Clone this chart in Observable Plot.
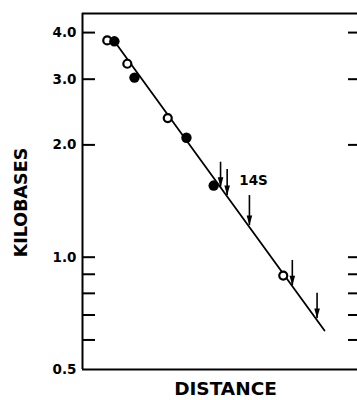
<!DOCTYPE html>
<html><head><meta charset="utf-8">
<script src="https://cdn.jsdelivr.net/npm/d3@7"></script>
<script src="https://cdn.jsdelivr.net/npm/@observablehq/plot@0.6"></script>
<style>body{margin:0;background:#fff}</style>
</head><body><div id="chart"></div>
<script>
// open circles
const openX = [9.0, 16.3, 31.0, 73.0];
const openKb = [3.81, 3.30, 2.36, 0.893];
// filled circles
const filledX = [11.6, 18.9, 37.8, 47.7];
const filledKb = [3.79, 3.03, 2.09, 1.556];
// fitted line
const fitX = [11.6, 88.0];
const fitKb = [3.79, 0.636];
// arrows (markers)
const arrowX = [50.2, 52.6, 60.7, 76.3, 85.3];
const arrowTailKb = [1.797, 1.718, 1.463, 0.980, 0.801];
const arrowTipKb = [1.540, 1.463, 1.216, 0.839, 0.685];
// ticks
const labelTicks = [0.5, 1, 2, 3, 4];
const markTicks = [0.6, 0.7, 0.8, 0.9, 1, 2, 3, 4];
const annotX = [62.2], annotKb = [1.6], annotText = ["14S"];
const xDomain = [0, 100], yDomain = [0.5, 4.5];

const openPts = openX.map((x, i) => ({x, kb: openKb[i]}));
const filledPts = filledX.map((x, i) => ({x, kb: filledKb[i]}));
const fit = fitX.map((x, i) => ({x, kb: fitKb[i]}));
const arrows = arrowX.map((x, i) => ({x, y1: arrowTailKb[i], y2: arrowTipKb[i]}));
const annot = annotX.map((x, i) => ({x, kb: annotKb[i], text: annotText[i]}));

const W = 357, ML = 82, MR = 0;
const frameW = W - ML - MR;
const head = {draw(ctx) { ctx.moveTo(0, 0); ctx.lineTo(-2.8, -10); ctx.lineTo(2.8, -10); ctx.closePath(); }};
const font = "DejaVu Sans";

const chart = Plot.plot({
  width: W, height: 400,
  marginLeft: ML, marginRight: MR, marginTop: 13, marginBottom: 31,
  style: {fontFamily: font, fontWeight: "bold", color: "#000", background: "#fff"},
  x: {domain: xDomain, axis: null},
  y: {type: "log", domain: yDomain, axis: null},
  marks: [
    Plot.ruleY([yDomain[0], yDomain[1]], {stroke: "#000", strokeWidth: 2}),
    Plot.ruleX([xDomain[0]], {stroke: "#000", strokeWidth: 2}),
    Plot.tickY(markTicks, {y: d => d, insetRight: frameW - 13, stroke: "#000", strokeWidth: 2}),
    Plot.tickY(markTicks, {y: d => d, insetLeft: frameW - 9, stroke: "#000", strokeWidth: 2}),
    Plot.text(labelTicks, {y: d => d, frameAnchor: "left", dx: -6, textAnchor: "end", lineAnchor: "middle",
      text: d => d3.format(".1f")(d), fontSize: 13.5, fontWeight: "bold", fill: "#000"}),
    Plot.text(["KILOBASES"], {frameAnchor: "left", dx: -61.6, dy: 11, rotate: -90, textAnchor: "middle",
      lineAnchor: "middle", fontSize: 17.5, fontWeight: "bold", fill: "#000"}),
    Plot.text(["DISTANCE"], {frameAnchor: "bottom", dx: 5.5, dy: 20, textAnchor: "middle",
      lineAnchor: "middle", fontSize: 18.5, fontWeight: "bold", fill: "#000"}),
    Plot.line(fit, {x: "x", y: "kb", stroke: "#000", strokeWidth: 1.8}),
    Plot.ruleX(arrows, {x: "x", y1: "y1", y2: "y2", stroke: "#000", strokeWidth: 1.6}),
    Plot.dot(arrows, {x: "x", y: "y2", symbol: head, r: 4, fill: "#000", stroke: "none"}),
    Plot.dot(openPts, {x: "x", y: "kb", r: 4, fill: "#fff", stroke: "#000", strokeWidth: 2.2}),
    Plot.dot(filledPts, {x: "x", y: "kb", r: 5.2, fill: "#000", stroke: "none"}),
    Plot.text(annot, {x: "x", y: "kb", text: "text", fontSize: 13.5, fontWeight: "bold", fill: "#000"})
  ]
});
document.getElementById("chart").append(chart);
</script>
</body></html>
